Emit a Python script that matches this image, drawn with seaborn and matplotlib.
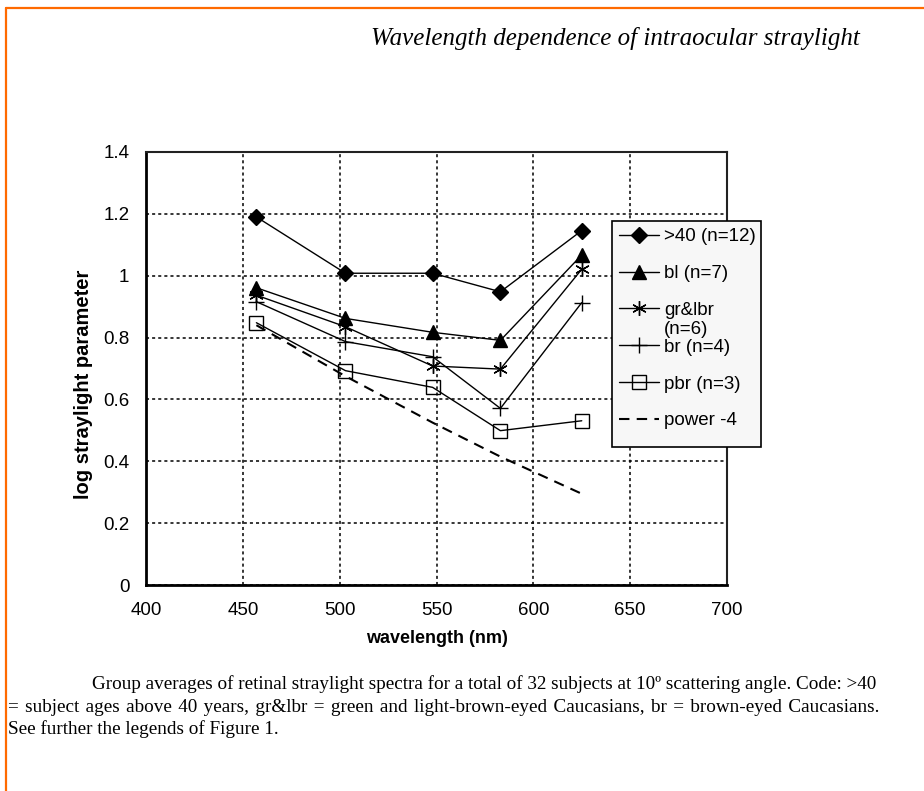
import matplotlib
matplotlib.use("Agg")
import matplotlib.pyplot as plt
import pandas as pd
import seaborn as sns
from matplotlib.lines import Line2D
from matplotlib.patches import Rectangle

# Measured group averages (log straylight) at the five test wavelengths
wavelengths = [457, 503, 548, 583, 625]
over40 = [1.190, 1.008, 1.008, 0.948, 1.146]
blue = [0.961, 0.862, 0.817, 0.791, 1.067]
green_lbr = [0.937, 0.835, 0.708, 0.698, 1.021]
brown = [0.916, 0.787, 0.738, 0.571, 0.913]
pale_brown = [0.848, 0.693, 0.639, 0.499, 0.531]
power_m4 = [0.840, 0.675, 0.525, 0.415, 0.295]

series_names = [">40 (n=12)", "bl (n=7)", "gr&lbr", "br (n=4)", "pbr (n=3)", "power -4"]
x_ticks = [400, 450, 500, 550, 600, 650, 700]
y_ticks = [0, 0.2, 0.4, 0.6, 0.8, 1, 1.2, 1.4]
y_tick_labels = ["0", "0.2", "0.4", "0.6", "0.8", "1", "1.2", "1.4"]

title = "Wavelength dependence of intraocular straylight"
caption_lines = [
    "Group averages of retinal straylight spectra for a total of 32 subjects at 10\u00ba scattering angle. Code: >40",
    "= subject ages above 40 years, gr&lbr = green and light-brown-eyed Caucasians, br = brown-eyed Caucasians.",
    "See further the legends of Figure 1.",
]

sns.set_style("white")
plt.rcParams["font.family"] = ["Liberation Sans", "DejaVu Sans"]
plt.rcParams["text.color"] = "black"
plt.rcParams["axes.labelcolor"] = "black"
plt.rcParams["xtick.color"] = "black"
plt.rcParams["ytick.color"] = "black"

W, H = 924, 791
fig = plt.figure(figsize=(W / 100, H / 100), dpi=100)
fig.patch.set_facecolor("white")
ax = fig.add_axes([146 / W, 1 - 585 / H, (727 - 146) / W, (585 - 152) / H])

frames = []
for name, vals in zip(series_names, [over40, blue, green_lbr, brown, pale_brown, power_m4]):
    frames.append(pd.DataFrame({"wavelength": wavelengths, "value": vals, "group": name}))
df = pd.concat(frames, ignore_index=True)

styles = {
    ">40 (n=12)": dict(marker="D", markersize=8.5, markerfacecolor="black", linestyle="-"),
    "bl (n=7)": dict(marker="^", markersize=9.5, markerfacecolor="black", linestyle="-"),
    "gr&lbr": dict(marker=(6, 2, 0), markersize=10.5, markerfacecolor="black", linestyle="-"),
    "br (n=4)": dict(marker="+", markersize=12, markerfacecolor="black", linestyle="-"),
    "pbr (n=3)": dict(marker="s", markersize=9.5, markerfacecolor="none", linestyle="-"),
    "power -4": dict(marker=None, linestyle=(0, (5, 3.5))),
}

for name in series_names:
    sub = df[df["group"] == name]
    st = styles[name]
    lw = 1.5 if name == "power -4" else 1.0
    sns.lineplot(
        data=sub, x="wavelength", y="value", ax=ax, color="black", label=name,
        linewidth=lw, markeredgecolor="black", markeredgewidth=1.0,
        sort=False, estimator=None, **st,
    )

ax.set_xlim(400, 700)
ax.set_ylim(0, 1.4)
ax.set_xticks(x_ticks)
ax.set_xticklabels([str(v) for v in x_ticks])
ax.set_yticks(y_ticks)
ax.set_yticklabels(y_tick_labels)
ax.tick_params(axis="both", direction="out", length=5, width=1.5, labelsize=13.5,
               colors="black", pad=7)
ax.grid(True, color="black", linestyle=(0, (2, 2)), linewidth=1.1)
ax.set_axisbelow(True)

for side in ["left", "bottom"]:
    ax.spines[side].set_linewidth(2.0)
    ax.spines[side].set_color("black")
for side in ["top", "right"]:
    ax.spines[side].set_linewidth(1.5)
    ax.spines[side].set_color("#222222")
    ax.spines[side].set_visible(True)

ax.set_xlabel("wavelength (nm)", fontsize=13, fontweight="bold", labelpad=8)
ax.set_ylabel("log straylight parameter", fontsize=14.5, fontweight="bold")
ax.yaxis.set_label_coords((93 - 146) / 581, (585 - 384) / 433)

handles, labels = ax.get_legend_handles_labels()
leg = ax.legend(
    handles, labels, loc="upper left",
    bbox_to_anchor=(611.7 / W, 1 - 220.7 / H), bbox_transform=fig.transFigure,
    frameon=False, fontsize=13.5, handlelength=2.1, handletextpad=0.3,
    labelspacing=1.05, borderpad=0.4, borderaxespad=0,
)
leg.set_zorder(5)

# legend box, taller than the entries because of the wrapped label
ax.add_patch(Rectangle((611.7 / W, 1 - 446.7 / H), 149 / W, 226 / H,
                       transform=fig.transFigure, facecolor="#f7f7f7",
                       edgecolor="black", linewidth=1.2, clip_on=False, zorder=4.9))

# second line of the wrapped gr&lbr legend entry
ax.annotate("(n=6)", xy=(0, 0), xycoords=leg.get_texts()[2], xytext=(0, -1.5),
            textcoords="offset points", ha="left", va="top", fontsize=13.5,
            annotation_clip=False, zorder=6)

fig.text(860 / W, 1 - 38 / H, title, ha="right", va="center",
         family="Liberation Serif", style="italic", fontsize=18)

serif = ["Liberation Serif", "DejaVu Serif"]
fig.text(92 / W, 1 - 684 / H, caption_lines[0], ha="left", va="center",
         family=serif, fontsize=13.8)
fig.text(8 / W, 1 - 707 / H, caption_lines[1].replace(" ", " \u200a"), ha="left",
         va="center", family=serif, fontsize=13.8)
fig.text(8 / W, 1 - 729 / H, caption_lines[2], ha="left", va="center",
         family=serif, fontsize=13.8)

# page border
orange = "#ff6a00"
fig.add_artist(Line2D([6 / W, 1], [1 - 8 / H, 1 - 8 / H], transform=fig.transFigure,
                      color=orange, linewidth=1.6))
fig.add_artist(Line2D([6 / W, 6 / W], [0, 1 - 8 / H], transform=fig.transFigure,
                      color=orange, linewidth=1.6))

fig.savefig("out.png", dpi=100, facecolor="white")
